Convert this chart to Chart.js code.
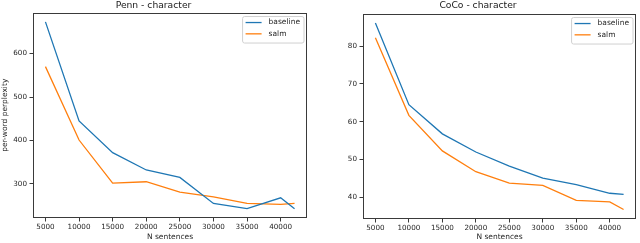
<!DOCTYPE html>
<html>
<head>
<meta charset="utf-8">
<script src="https://cdn.jsdelivr.net/npm/chart.js@4.4.0/dist/chart.umd.min.js"></script>
<style>
  html, body { margin: 0; padding: 0; background: #fff; }
  #wrap { display: flex; width: 640px; height: 243px; }
  canvas { display: block; }
</style>
</head>
<body>
<div id="wrap">
  <canvas id="pennChart" width="320" height="243"></canvas>
  <canvas id="cocoChart" width="320" height="243"></canvas>
</div>
<script>
// data
const sentences = [5000, 10000, 15000, 20000, 25000, 30000, 35000, 40000, 42068];
const pennBaseline = [673, 445, 372, 332, 315, 255, 243, 268, 243];
const pennSalm = [570, 401, 302, 305, 281, 270, 255, 253, 255];
const cocoBaseline = [86.1, 64.5, 56.8, 52.0, 48.3, 45.1, 43.4, 41.1, 40.8];
const cocoSalm = [82.2, 61.7, 52.3, 46.8, 43.8, 43.2, 39.2, 38.8, 36.8];

const xTicks = [5000, 10000, 15000, 20000, 25000, 30000, 35000, 40000];
const pennTicks = [300, 400, 500, 600];
const cocoTicks = [40, 50, 60, 70, 80];

Chart.defaults.font.family = 'DejaVu Sans';
Chart.defaults.color = '#262626';

const pts = (xs, ys) => xs.map((x, i) => ({ x: x, y: ys[i] }));

// box round the plot, like matplotlib spines
const framePlugin = {
  id: 'frame',
  afterDraw(chart) {
    const a = chart.chartArea, ctx = chart.ctx;
    ctx.save();
    ctx.strokeStyle = '#3a3a3a';
    ctx.lineWidth = 1;
    ctx.strokeRect(Math.round(a.left) + 0.5, Math.round(a.top) + 0.5,
      Math.round(a.right - a.left) - 1, Math.round(a.bottom - a.top) - 1);
    ctx.restore();
  }
};

// legend box in the upper right corner of the plot
const boxLegend = {
  id: 'boxLegend',
  afterDatasetsDraw(chart) {
    const a = chart.chartArea, ctx = chart.ctx;
    const sets = chart.data.datasets;
    ctx.save();
    ctx.font = '7.5px "DejaVu Sans"';
    const tw = Math.max(...sets.map(d => ctx.measureText(d.label).width));
    const w = 3.5 + 16 + 7 + tw + 3.5;
    const h = 26.5;
    const x = a.right - 3.5 - w, y = a.top + 3.5;
    ctx.fillStyle = 'rgba(255,255,255,0.85)';
    ctx.strokeStyle = '#d0d0d0';
    ctx.lineWidth = 1;
    ctx.beginPath();
    ctx.roundRect(x + 0.5, y + 0.5, w, h, 2);
    ctx.fill();
    ctx.stroke();
    sets.forEach((d, i) => {
      const ry = y + 6.5 + i * 11.3;
      ctx.strokeStyle = d.borderColor;
      ctx.lineWidth = 1.3;
      ctx.beginPath();
      ctx.moveTo(x + 3.5, ry);
      ctx.lineTo(x + 19.5, ry);
      ctx.stroke();
      ctx.fillStyle = '#262626';
      ctx.textBaseline = 'middle';
      ctx.fillText(d.label, x + 26.5, ry);
    });
    ctx.restore();
  }
};

function makeChart(id, title, base, salm, yMin, yMax, yTicks, yTitle, yWidth, padRight, titlePad, xHeight) {
  return new Chart(document.getElementById(id), {
    type: 'line',
    data: {
      datasets: [{
        label: 'baseline',
        data: pts(sentences, base),
        borderColor: '#1f77b4',
        borderWidth: 1.3,
        pointRadius: 0,
        tension: 0,
        fill: false
      }, {
        label: 'salm',
        data: pts(sentences, salm),
        borderColor: '#ff7f0e',
        borderWidth: 1.3,
        pointRadius: 0,
        tension: 0,
        fill: false
      }]
    },
    options: {
      responsive: false,
      animation: false,
      layout: { padding: { left: 0, right: padRight, top: 0, bottom: 0 } },
      plugins: {
        legend: { display: false },
        tooltip: { enabled: false },
        title: {
          display: true,
          text: title,
          font: { size: 9.2, weight: 'normal' },
          color: '#1a1a1a',
          padding: { top: 0, bottom: titlePad }
        }
      },
      scales: {
        x: {
          type: 'linear',
          min: 3147,
          max: 43921,
          afterBuildTicks: s => { s.ticks = xTicks.map(v => ({ value: v })); },
          afterFit: s => { s.height = xHeight; },
          grid: { display: true, drawOnChartArea: false, drawTicks: true, tickLength: 3.5, color: '#3a3a3a' },
          border: { display: false },
          ticks: { font: { size: 7.2 }, padding: 1.5, maxRotation: 0, autoSkip: false, callback: v => String(v) },
          title: { display: true, text: 'N sentences', font: { size: 7.5 }, padding: { top: 0, bottom: 1 } }
        },
        y: {
          type: 'linear',
          min: yMin,
          max: yMax,
          afterBuildTicks: s => { s.ticks = yTicks.map(v => ({ value: v })); },
          afterFit: s => { s.width = yWidth; },
          grid: { display: true, drawOnChartArea: false, drawTicks: true, tickLength: 3.5, color: '#3a3a3a' },
          border: { display: false },
          ticks: { font: { size: 7.2 }, padding: 2.5, callback: v => String(v) },
          title: { display: yTitle !== '', text: yTitle, font: { size: 7.5 }, padding: { top: 1, bottom: 0 } }
        }
      }
    },
    plugins: [framePlugin, boxLegend]
  });
}

makeChart('pennChart', 'Penn - character', pennBaseline, pennSalm, 221.5, 694.5, pennTicks, 'per-word perplexity', 33, 13, 1.5, 25);
makeChart('cocoChart', 'CoCo - character', cocoBaseline, cocoSalm, 34.3, 88.6, cocoTicks, '', 43, 4, 2.5, 24);
</script>
</body>
</html>
